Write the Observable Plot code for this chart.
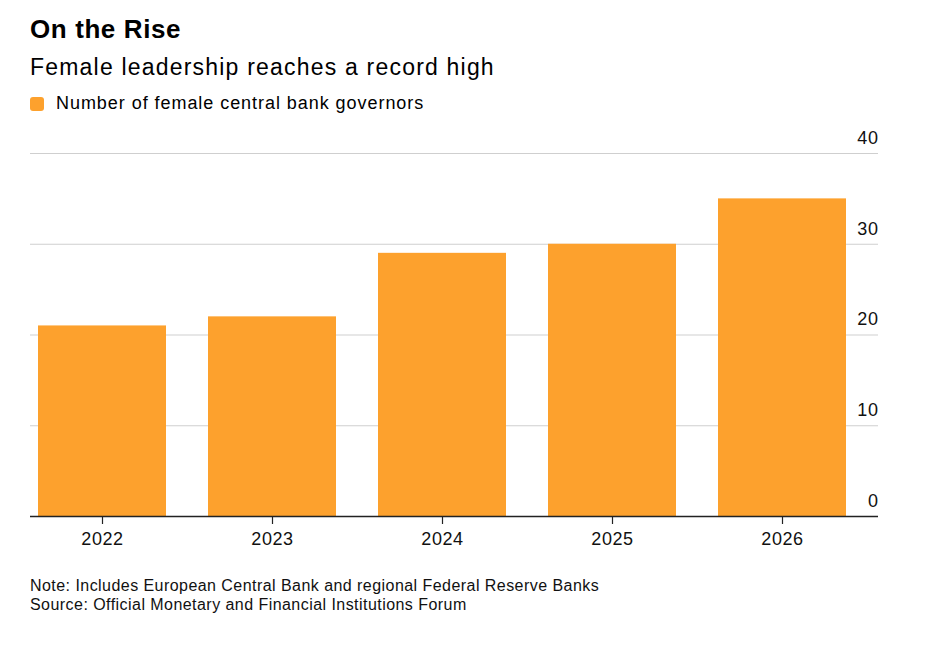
<!DOCTYPE html>
<html>
<head>
<meta charset="utf-8">
<script src="https://cdn.jsdelivr.net/npm/d3@7"></script>
<script src="https://cdn.jsdelivr.net/npm/@observablehq/plot@0.6"></script>
<style>
  html, body { margin: 0; padding: 0; background: #fff; }
  body { width: 936px; height: 646px; position: relative; font-family: "Liberation Sans", Arial, sans-serif; color: #000; overflow: hidden; }
  .abs { position: absolute; left: 30px; white-space: nowrap; }
  #title { top: 16px; font-size: 26px; line-height: 26px; font-weight: bold; letter-spacing: 0.6px; }
  #subtitle { top: 56px; font-size: 23px; line-height: 23px; letter-spacing: 1.2px; }
  #legend { top: 94px; font-size: 18px; line-height: 18px; display: flex; align-items: center; letter-spacing: 0.95px; }
  #legend .sw { width: 14px; height: 14px; border-radius: 3px; background: #fda12d; margin-right: 12px; margin-top: 1px; }
  #chart { position: absolute; left: 0; top: 120px; }
  #footer { top: 576px; font-size: 16px; line-height: 19px; color: #111; letter-spacing: 0.45px; }
</style>
</head>
<body>
<div id="title" class="abs">On the Rise</div>
<div id="subtitle" class="abs">Female leadership reaches a record high</div>
<div id="legend" class="abs"><span class="sw"></span><span>Number of female central bank governors</span></div>
<div id="chart"></div>
<div id="footer" class="abs">Note: Includes European Central Bank and regional Federal Reserve Banks<br>Source: Official Monetary and Financial Institutions Forum</div>
<script>
const years = ["2022", "2023", "2024", "2025", "2026"];
const governors = [21, 22, 29, 30, 35];
const yTicks = [0, 10, 20, 30, 40];
const gridTicks = [10, 20, 30, 40];

const data = years.map((y, i) => ({year: y, value: governors[i]}));

const chart = Plot.plot({
  width: 936,
  height: 440,
  marginLeft: 30,
  marginRight: 58,
  marginTop: 33,
  marginBottom: 44,
  style: {fontFamily: "'Liberation Sans', Arial, sans-serif", fontSize: "18px", letterSpacing: "0.6px", color: "#000", background: "transparent"},
  x: {domain: years, range: [30, 854], paddingInner: 0.247, paddingOuter: 0.047, label: null},
  y: {domain: [0, 40], label: null},
  marks: [
    Plot.ruleY(gridTicks, {stroke: "#cfcfcf", strokeWidth: 1}),
    Plot.barY(data, {x: "year", y: "value", fill: "#fda12d"}),
    Plot.ruleY([0], {stroke: "#222", strokeWidth: 1.5}),
    Plot.axisX({anchor: "bottom", tickSize: 8, tickPadding: 8, stroke: "#222", strokeWidth: 1.2, fontSize: 18, fill: "#111"}),
    Plot.axisY(yTicks, {anchor: "right", tickSize: 0, tickPadding: 0, textAnchor: "end", dy: -15.5, fontSize: 18, fill: "#111"})
  ]
});
document.getElementById("chart").appendChild(chart);
</script>
</body>
</html>
